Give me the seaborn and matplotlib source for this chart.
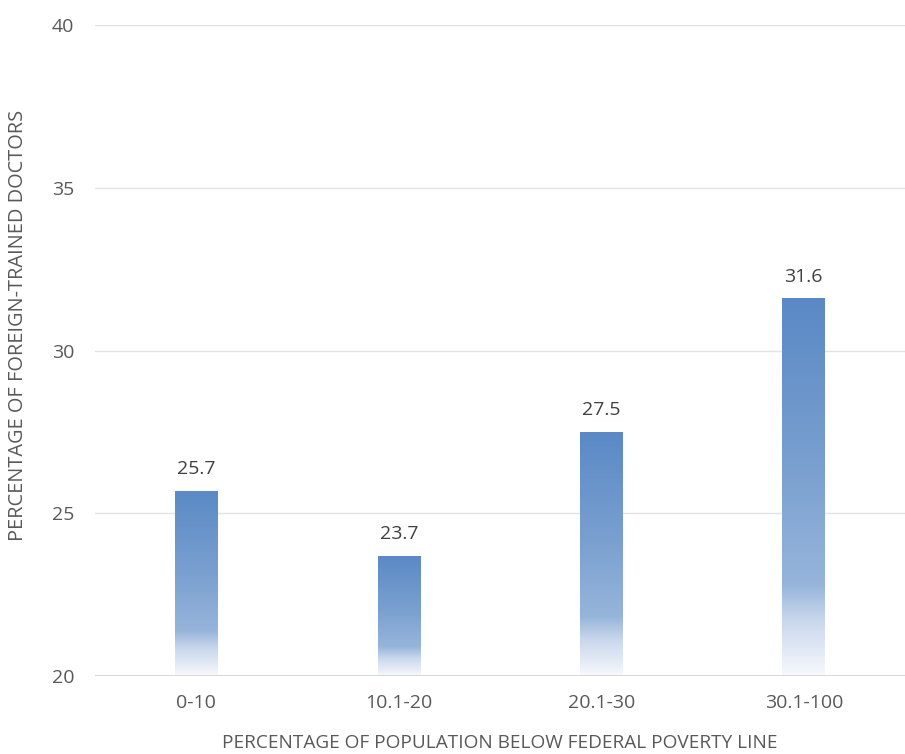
import numpy as np
import pandas as pd
import matplotlib
matplotlib.use("Agg")
import matplotlib.pyplot as plt
from matplotlib.colors import LinearSegmentedColormap
import seaborn as sns

categories = ["0-10", "10.1-20", "20.1-30", "30.1-100"]
values = [25.7, 23.7, 27.5, 31.6]
y_ticks = [20, 25, 30, 35, 40]

sns.set_theme(style="white")
plt.rcParams["font.family"] = ["Open Sans", "DejaVu Sans"]

df = pd.DataFrame({"group": categories, "pct": values})

fig = plt.figure(figsize=(9.05, 7.54), dpi=100)
ax = fig.add_axes([0.105, 0.1034, 0.895, 0.8634])

sns.barplot(data=df, x="group", y="pct", ax=ax, width=0.21, color="#5b8bc6",
            order=categories)
ax.set_ylim(20, 40)
ax.set_xlim(-0.5, 3.5)
ax.set_yticks(y_ticks)

# vertical fade: solid blue at the top, paling to near-white at the base
fade = LinearSegmentedColormap.from_list(
    "fade", [(0.0, "#5a89c5"), (0.45, "#7aa0d0"), (0.76, "#97b5db"),
             (0.85, "#c8d6ec"), (1.0, "#f7f9fd")])
grad = np.linspace(0, 1, 256).reshape(-1, 1)
for patch, v in zip(ax.patches, values):
    x0 = patch.get_x()
    w = patch.get_width()
    y0 = ax.get_ylim()[0]
    patch.set_facecolor("none")
    patch.set_edgecolor("none")
    im = ax.imshow(grad, cmap=fade, aspect="auto", origin="upper",
                   extent=[x0, x0 + w, y0, v], zorder=2, interpolation="bilinear")
    im.set_clip_path(patch)
    ax.annotate(f"{v}", (x0 + w / 2, v), xytext=(0, 12), textcoords="offset points",
                ha="center", va="baseline", fontsize=14, color="#404040")

ax.set_xlim(-0.5, 3.5)
ax.set_ylim(20, 40)

for y in y_ticks[1:]:
    ax.axhline(y, color="#e3e3e3", lw=1, zorder=0)
ax.axhline(20, color="#d4d4d4", lw=1.3, zorder=3)

for s in ax.spines.values():
    s.set_visible(False)
ax.tick_params(axis="both", length=0, labelsize=14, colors="#595959")
ax.tick_params(axis="y", pad=15)
ax.tick_params(axis="x", pad=13)

ax.set_xlabel("PERCENTAGE OF POPULATION BELOW FEDERAL POVERTY LINE",
              fontsize=13.7, color="#595959")
ax.set_ylabel("PERCENTAGE OF FOREIGN-TRAINED DOCTORS",
              fontsize=14.4, color="#595959")
ax.xaxis.set_label_coords(0.5, -0.103)
ax.xaxis.label.set_va("center")
ax.yaxis.set_label_coords(-0.095, 0.539)
ax.yaxis.label.set_va("center")

fig.savefig("out.png", dpi=100)
